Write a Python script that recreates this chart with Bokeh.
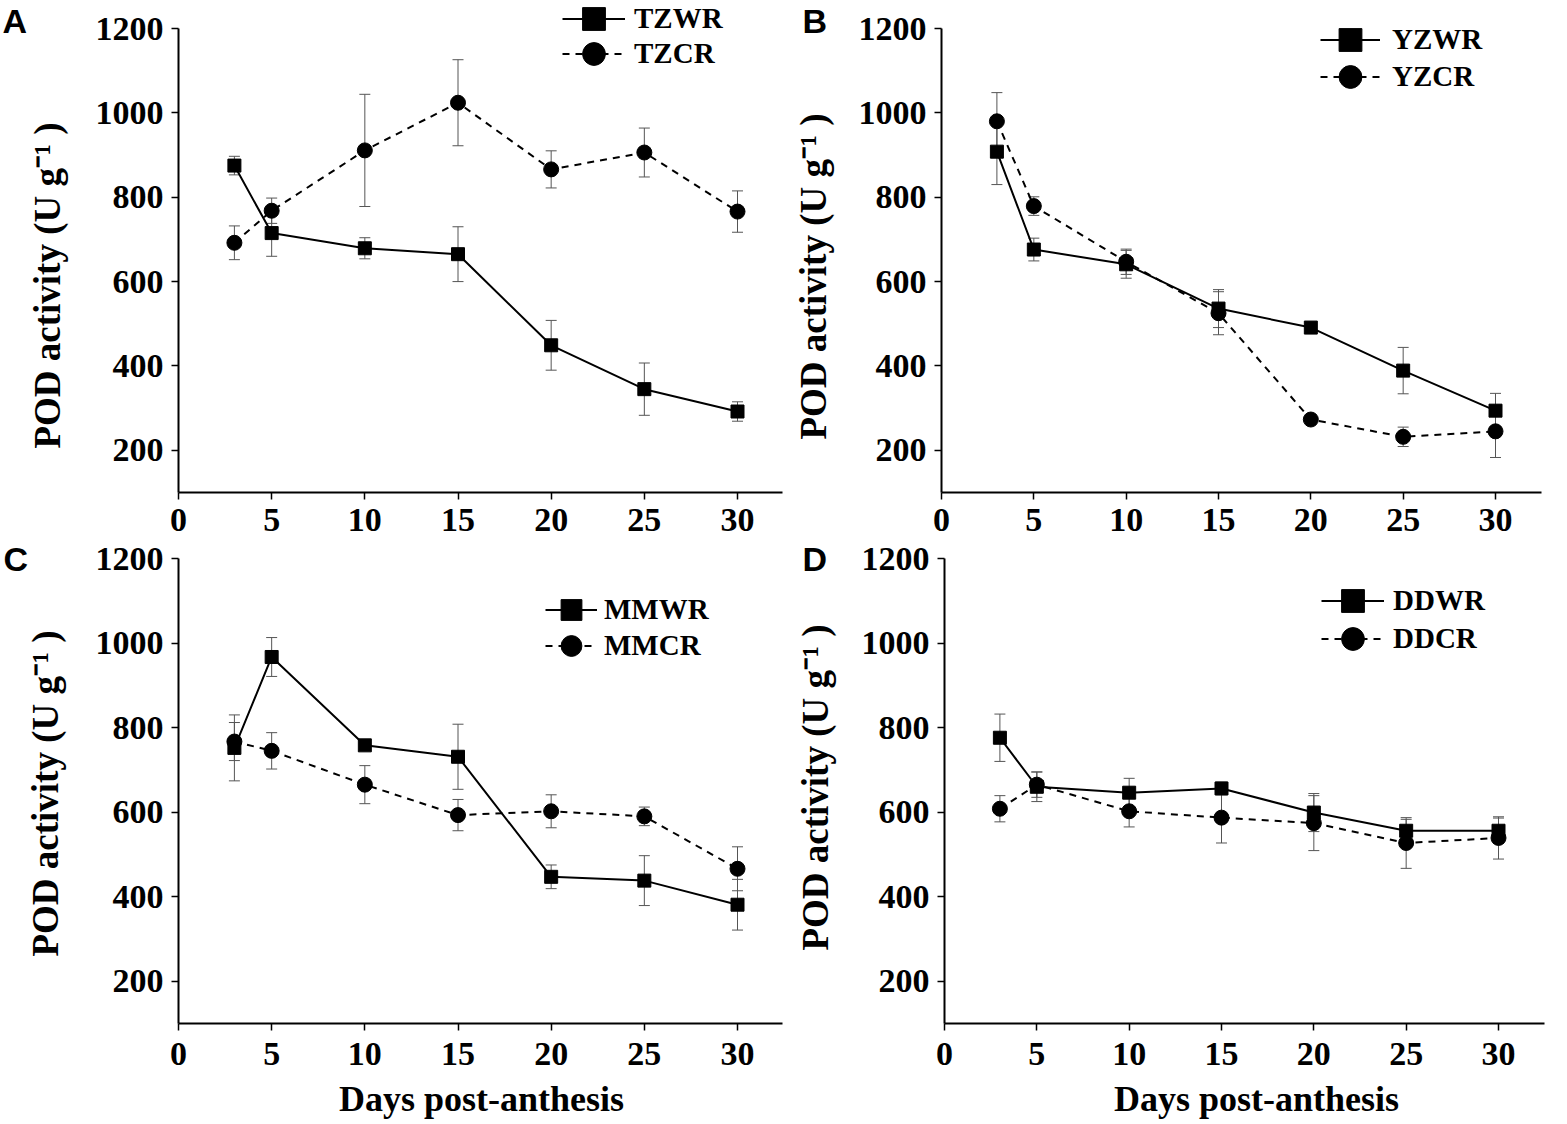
import math
from bokeh.plotting import figure
from bokeh.models import (ColumnDataSource, Whisker, TeeHead, Range1d, FixedTicker,
                          Legend, LegendItem, Label)
from bokeh.layouts import column, row
from bokeh.embed import file_html
from bokeh.resources import INLINE

days = [3, 5, 10, 15, 20, 25, 30]

tzwr = [875, 715, 679, 665, 449, 345, 292]
tzwr_err = [22, 55, 25, 65, 59, 62, 23]
tzcr = [692, 768, 911, 1024, 866, 906, 766]
tzcr_err = [40, 30, 133, 102, 44, 58, 49]

yzwr = [908, 676, 641, 536, 491, 389, 294]
yzwr_err = [78, 27, 33, 45, 10, 55, 41]
yzcr = [980, 779, 647, 525, 273, 232, 245]
yzcr_err = [68, 22, 30, 51, 10, 23, 62]

mmwr = [752, 967, 758, 731, 447, 438, 381]
mmwr_err = [78, 46, 10, 77, 28, 59, 60]
mmcr = [767, 745, 665, 593, 602, 590, 466]
mmcr_err = [45, 43, 45, 37, 39, 22, 52]

ddwr = [776, 660, 646, 656, 599, 556, 556]
ddwr_err = [56, 35, 34, 15, 45, 27, 30]
ddcr = [608, 665, 602, 587, 574, 527, 539]
ddcr_err = [31, 30, 37, 60, 65, 60, 50]

x_ticks = [0, 5, 10, 15, 20, 25, 30]
y_ticks = [200, 400, 600, 800, 1000, 1200]
y_label = "POD activity (U g\u207b\u00b9 )"
x_label = "Days post-anthesis"

SERIF = "Liberation Serif"
SANS = "Liberation Sans"


def make_panel(letter, wr_name, wr, wr_err, cr_name, cr, cr_err, geo, legend_geo,
               letter_xy, ylab_xy, xlab_xy):
    # geo: canvas origin/size and pixel positions of x=0, x=30, y=1200, y=100 (page px)
    cx0, cy0, W, H, px0, px30, py1200, py100, x_axis_end = geo
    ppx = (px30 - px0) / 30.0
    ppy = (py100 - py1200) / 1100.0

    def dx(px):
        return (px - px0) / ppx

    def dy(py):
        return 1200 - (py - py1200) / ppy

    p = figure(width=W, height=H, output_backend="svg", toolbar_location=None,
               x_range=Range1d(dx(cx0), dx(cx0 + W)),
               y_range=Range1d(dy(cy0 + H), dy(cy0)),
               min_border_left=0, min_border_right=0,
               min_border_top=0, min_border_bottom=0)
    p.outline_line_color = None
    p.xgrid.visible = False
    p.ygrid.visible = False
    p.background_fill_color = "white"
    p.border_fill_color = "white"

    for ax in (p.xaxis[0], p.yaxis[0]):
        ax.axis_line_width = 2
        ax.axis_line_color = "black"
        ax.major_tick_line_width = 1.5
        ax.major_tick_line_color = "black"
        ax.major_tick_in = 0
        ax.major_tick_out = 7
        ax.minor_tick_line_color = None
        ax.major_label_text_font = SERIF
        ax.major_label_text_font_style = "bold"
        ax.major_label_text_font_size = "34px"
        ax.major_label_text_color = "black"
    xa, ya = p.xaxis[0], p.yaxis[0]
    xa.ticker = FixedTicker(ticks=x_ticks)
    ya.ticker = FixedTicker(ticks=y_ticks)
    xa.fixed_location = 100
    ya.fixed_location = 0
    xa.bounds = (0, dx(x_axis_end))
    ya.bounds = (100, 1200)
    xa.major_label_standoff = 9 if xlab_xy is None else 12
    ya.major_label_standoff = 8

    for vals, errs in ((wr, wr_err), (cr, cr_err)):
        src = ColumnDataSource(dict(x=days,
                                    upper=[v + e for v, e in zip(vals, errs)],
                                    lower=[v - e for v, e in zip(vals, errs)]))
        w = Whisker(base="x", upper="upper", lower="lower", source=src,
                    line_color="#555555", line_width=1, level="underlay",
                    upper_head=TeeHead(size=11, line_color="#555555", line_width=1),
                    lower_head=TeeHead(size=11, line_color="#555555", line_width=1))
        p.add_layout(w)

    src_wr = ColumnDataSource(dict(x=days, y=wr))
    src_cr = ColumnDataSource(dict(x=days, y=cr))
    l_cr = p.line("x", "y", source=src_cr, line_color="black", line_width=2, line_dash="7 6")
    l_wr = p.line("x", "y", source=src_wr, line_color="black", line_width=2)
    m_cr = p.scatter("x", "y", source=src_cr, marker="circle", size=15,
                     fill_color="black", line_color="black")
    m_wr = p.scatter("x", "y", source=src_wr, marker="square", size=13,
                     fill_color="black", line_color="black")

    # one single-item legend per series: glyph box 57 px high -> legend symbol ~23 px
    gx, c1, c2, gw, standoff = legend_geo
    gh = 57
    for name, rends, cy in ((wr_name, [l_wr, m_wr], c1), (cr_name, [l_cr, m_cr], c2)):
        bottom = cy + gh / 2.0
        legend = Legend(items=[LegendItem(label=name, renderers=rends)],
                        location=(gx - cx0, cy0 + H - bottom), orientation="vertical",
                        glyph_width=gw, glyph_height=gh, label_height=gh,
                        label_standoff=standoff, spacing=0, padding=0, margin=0,
                        border_line_color=None, background_fill_alpha=0,
                        label_text_font=SERIF, label_text_font_style="bold",
                        label_text_font_size="29px", label_text_color="black")
        p.add_layout(legend, "center")

    lx, ly = letter_xy
    p.add_layout(Label(x=dx(lx), y=dy(ly), text=letter, text_font=SANS,
                       text_font_style="bold", text_font_size="34px", text_color="black",
                       text_align="left", text_baseline="middle"))

    yx, yy = ylab_xy
    p.add_layout(Label(x=dx(yx), y=dy(yy), text=y_label, angle=math.pi / 2,
                       text_font=SERIF, text_font_style="bold", text_font_size="37px",
                       text_color="black", text_align="center",
                       text_baseline="middle"))
    if xlab_xy is not None:
        tx, ty = xlab_xy
        p.add_layout(Label(x=dx(tx), y=dy(ty), text=x_label,
                           text_font=SERIF, text_font_style="bold", text_font_size="36px",
                           text_color="black", text_align="center",
                           text_baseline="middle"))
    return p


ROW1_H = 539
ROW2_H = 585

pA = make_panel("A", "TZWR", tzwr, tzwr_err, "TZCR", tzcr, tzcr_err,
                (0, 0, 783, ROW1_H, 178, 737, 28, 492, 782),
                (562, 18, 53, 63, 9), (2, 20), (47, 285), None)
pB = make_panel("B", "YZWR", yzwr, yzwr_err, "YZCR", yzcr, yzcr_err,
                (783, 0, 784, ROW1_H, 941, 1495, 28, 492, 1541),
                (1320, 39, 76, 60, 12), (802, 20), (813, 276), None)
pC = make_panel("C", "MMWR", mmwr, mmwr_err, "MMCR", mmcr, mmcr_err,
                (0, ROW1_H, 783, ROW2_H, 178, 737, 558, 1023, 782),
                (545, 609.5, 645.5, 52, 7), (3, 558), (45, 793), (481, 1098))
pD = make_panel("D", "DDWR", ddwr, ddwr_err, "DDCR", ddcr, ddcr_err,
                (783, ROW1_H, 784, ROW2_H, 944, 1498, 558, 1023, 1544),
                (1321, 600, 638, 63, 9), (802, 558), (815, 787), (1256, 1098))

layout = column(row(pA, pB), row(pC, pD))
open("out.html", "w").write(file_html(layout, INLINE))
